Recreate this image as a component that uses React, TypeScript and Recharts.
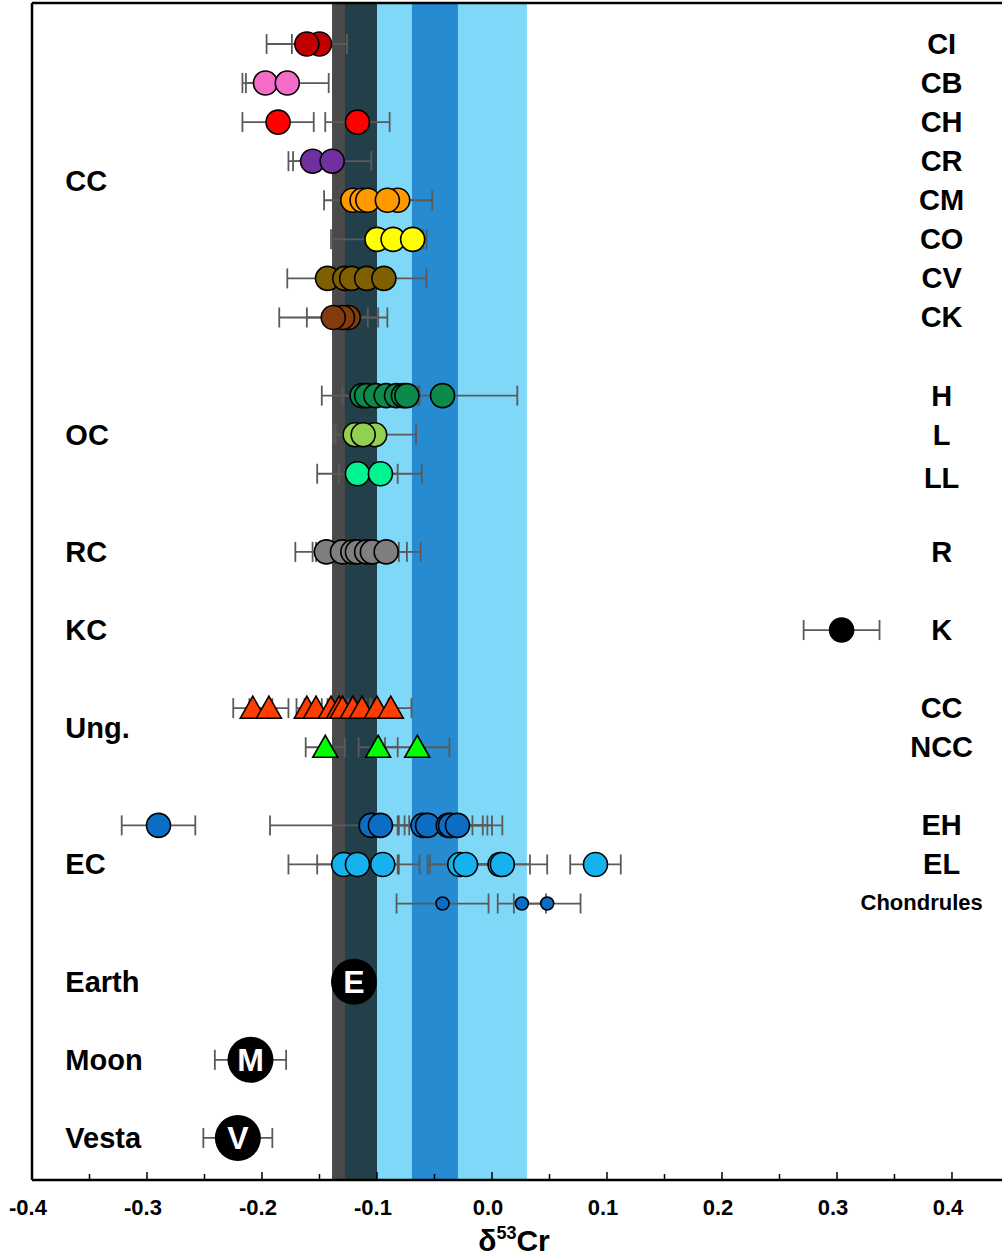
import React from "react";
import {
  ScatterChart,
  Scatter,
  XAxis,
  YAxis,
  ErrorBar,
  ReferenceArea,
  ReferenceLine,
} from "recharts";

// delta-53Cr values and 2SD errors per group (row 0 = top)
const ciX = [-0.15, -0.161];
const ciErr = [0.024, 0.035];
const cbX = [-0.197, -0.178];
const cbErr = [0.02, 0.036];
const chX = [-0.186, -0.117];
const chErr = [0.031, 0.028];
const crX = [-0.156, -0.139];
const crErr = [0.021, 0.034];
const cmX = [-0.121, -0.113, -0.108, -0.082, -0.091];
const cmErr = [0.025, 0.012, 0.012, 0.03, 0.015];
const coX = [-0.1, -0.086, -0.069];
const coErr = [0.04, 0.012, 0.012];
const cvX = [-0.143, -0.128, -0.122, -0.109, -0.094];
const cvErr = [0.035, 0.015, 0.012, 0.012, 0.037];
const ckX = [-0.125, -0.13, -0.138];
const ckErr = [0.017, 0.031, 0.047];
const hX = [-0.113, -0.109, -0.101, -0.092, -0.083, -0.077, -0.074, -0.043];
const hErr = [0.035, 0.021, 0.012, 0.025, 0.02, 0.012, 0.01, 0.065];
const lX = [-0.102, -0.119, -0.112];
const lErr = [0.036, 0.017, 0.01];
const llX = [-0.117, -0.097];
const llErr = [0.035, 0.036];
const rX = [-0.144, -0.13, -0.121, -0.117, -0.109, -0.104, -0.092];
const rErr = [0.027, 0.026, 0.012, 0.036, 0.035, 0.012, 0.03];
const kX = [0.304];
const kErr = [0.033];
const ungCcX = [-0.208, -0.194, -0.161, -0.153, -0.14, -0.133, -0.13, -0.121, -0.113, -0.1, -0.088];
const ungCcErr = [0.017, 0.017, 0.009, 0.01, 0.008, 0.008, 0.008, 0.008, 0.008, 0.01, 0.018];
const nccX = [-0.145, -0.099, -0.065];
const nccErr = [0.017, 0.017, 0.028];
const ehX = [-0.29, -0.105, -0.097, -0.06, -0.056, -0.038, -0.036, -0.03];
const ehErr = [0.032, 0.088, 0.015, 0.016, 0.048, 0.034, 0.045, 0.03];
const elX = [-0.129, -0.117, -0.095, -0.028, -0.023, 0.007, 0.009, 0.09];
const elErr = [0.048, 0.035, 0.032, 0.028, 0.031, 0.026, 0.039, 0.022];
const chondX = [-0.043, 0.026, 0.048];
const chondErr = [0.04, 0.021, 0.029];
const earthX = [-0.12];
const moonX = [-0.21];
const moonErr = [0.031];
const vestaX = [-0.221];
const vestaErr = [0.03];

const leftLabels = [
  { t: "CC", y: 3.5 },
  { t: "OC", y: 10 },
  { t: "RC", y: 13 },
  { t: "KC", y: 15 },
  { t: "Ung.", y: 17.5 },
  { t: "EC", y: 21 },
  { t: "Earth", y: 24 },
  { t: "Moon", y: 26 },
  { t: "Vesta", y: 28 },
];
const rightLabels = [
  { t: "CI", y: 0 },
  { t: "CB", y: 1 },
  { t: "CH", y: 2 },
  { t: "CR", y: 3 },
  { t: "CM", y: 4 },
  { t: "CO", y: 5 },
  { t: "CV", y: 6 },
  { t: "CK", y: 7 },
  { t: "H", y: 9 },
  { t: "L", y: 10 },
  { t: "LL", y: 11.1 },
  { t: "R", y: 13 },
  { t: "K", y: 15 },
  { t: "CC", y: 17 },
  { t: "NCC", y: 18 },
  { t: "EH", y: 20 },
  { t: "EL", y: 21 },
  { t: "Chondrules", y: 21.95 },
];

const xTicks = [
  -0.4, -0.35, -0.3, -0.25, -0.2, -0.15, -0.1, -0.05, 0, 0.05, 0.1, 0.15, 0.2, 0.25, 0.3, 0.35, 0.4,
];

const FONT = "'Liberation Sans', Arial, Helvetica, sans-serif";

const toPts = (xs: number[], y: number, errs?: number[], extra: any = {}) =>
  xs.map((x, i) => ({ x, y, err: errs ? errs[i] : 0, ...extra }));

const dot = (fill: string, r = 12) => (p: any) => (
  <circle cx={p.cx} cy={p.cy} r={r} fill={fill} stroke="#000" strokeWidth={1.6} />
);

const tri = (fill: string) => (p: any) => (
  <path
    d={`M${p.cx},${p.cy - 12} L${p.cx + 12.5},${p.cy + 10} L${p.cx - 12.5},${p.cy + 10} Z`}
    fill={fill}
    stroke="#000"
    strokeWidth={1.6}
    strokeLinejoin="miter"
  />
);

const planet = (p: any) => (
  <g>
    <circle cx={p.cx} cy={p.cy} r={23} fill="#000" />
    <text
      x={p.cx}
      y={p.cy + 11}
      textAnchor="middle"
      fill="#fff"
      fontFamily={FONT}
      fontWeight="bold"
      fontSize={32}
    >
      {p.payload.letter}
    </text>
  </g>
);

const rows = [
  { key: "CI", data: toPts(ciX, 0, ciErr), shape: dot("#c00000") },
  { key: "CB", data: toPts(cbX, 1, cbErr), shape: dot("#f56cc8") },
  { key: "CH", data: toPts(chX, 2, chErr), shape: dot("#ff0000") },
  { key: "CR", data: toPts(crX, 3, crErr), shape: dot("#7030a0") },
  { key: "CM", data: toPts(cmX, 4, cmErr), shape: dot("#ff9900") },
  { key: "CO", data: toPts(coX, 5, coErr), shape: dot("#ffff00") },
  { key: "CV", data: toPts(cvX, 6, cvErr), shape: dot("#7f6000") },
  { key: "CK", data: toPts(ckX, 7, ckErr), shape: dot("#843c0c") },
  { key: "H", data: toPts(hX, 9, hErr), shape: dot("#0b8a4c") },
  { key: "L", data: toPts(lX, 10, lErr), shape: dot("#92d050") },
  { key: "LL", data: toPts(llX, 11, llErr), shape: dot("#00f590") },
  { key: "R", data: toPts(rX, 13, rErr), shape: dot("#7f7f7f") },
  { key: "K", data: toPts(kX, 15, kErr), shape: dot("#000000") },
  { key: "UngCC", data: toPts(ungCcX, 17, ungCcErr), shape: tri("#ff3d00") },
  { key: "NCC", data: toPts(nccX, 18, nccErr), shape: tri("#00ff00") },
  { key: "EH", data: toPts(ehX, 20, ehErr), shape: dot("#0b6ec4") },
  { key: "EL", data: toPts(elX, 21, elErr), shape: dot("#16b2ee") },
  { key: "Chond", data: toPts(chondX, 22, chondErr), shape: dot("#0b6ec4", 6.5) },
  { key: "Earth", data: toPts(earthX, 24, undefined, { letter: "E" }), shape: planet },
  { key: "Moon", data: toPts(moonX, 26, moonErr, { letter: "M" }), shape: planet },
  { key: "Vesta", data: toPts(vestaX, 28, vestaErr, { letter: "V" }), shape: planet },
];

// shaded ranges
const bands = [
  { x1: -0.1, x2: 0.0304, fill: "#80d8f8" },
  { x1: -0.0696, x2: -0.0296, fill: "#268bd0" },
  { x1: -0.1391, x2: -0.1, fill: "#4a4a4a" },
  { x1: -0.1278, x2: -0.1, fill: "#233f49" },
];

const XTick = (props: any) => {
  const { x, y, payload } = props;
  const v = payload.value as number;
  const major = Math.abs(v * 10 - Math.round(v * 10)) < 1e-6;
  return (
    <g>
      <line x1={x} x2={x} y1={y} y2={y - (major ? 8 : 6)} stroke="#000" strokeWidth={1.5} />
      {major && (
        <text
          x={x - 4}
          y={y + 35}
          textAnchor="middle"
          fontFamily={FONT}
          fontWeight="bold"
          fontSize={22}
          fill="#000"
        >
          {v.toFixed(1)}
        </text>
      )}
    </g>
  );
};

const AxisTitle = (props: any) => {
  const vb = props.viewBox || { x: 0, y: 0, width: 0 };
  return (
    <text
      x={vb.x + vb.width / 2 - 3}
      y={vb.y + 71}
      textAnchor="middle"
      fontFamily={FONT}
      fontWeight="bold"
      fontSize={30}
      fill="#000"
    >
      δ
      <tspan fontSize={18} dy={-12}>
        53
      </tspan>
      <tspan dy={12}>Cr</tspan>
    </text>
  );
};

const leftText = (p: any) => (
  <text
    x={p.cx}
    y={p.cy + 10}
    textAnchor="start"
    fontFamily={FONT}
    fontWeight="bold"
    fontSize={29}
    fill="#000"
  >
    {p.payload.t}
  </text>
);

const rightText = (p: any) => {
  const small = p.payload.t === "Chondrules";
  return (
    <text
      x={small ? p.cx - 20 : p.cx}
      y={p.cy + (small ? 8 : 10)}
      textAnchor="middle"
      fontFamily={FONT}
      fontWeight="bold"
      fontSize={small ? 22 : 29}
      fill="#000"
    >
      {p.payload.t}
    </text>
  );
};

const App: React.FC = () => {
  return (
    <div style={{ position: "absolute", left: 0, top: 0, background: "#fff" }}>
      <ScatterChart width={1002} height={1260} margin={{ top: 3, right: 0, bottom: 0, left: 32 }}>
        {bands.map((b, i) => (
          <ReferenceArea
            key={i}
            x1={b.x1}
            x2={b.x2}
            fill={b.fill}
            fillOpacity={1}
            stroke="none"
            ifOverflow="visible"
          />
        ))}
        <XAxis
          type="number"
          dataKey="x"
          domain={[-0.4, 0.4435]}
          allowDataOverflow
          ticks={xTicks}
          interval={0}
          tick={<XTick />}
          tickLine={false}
          tickSize={0}
          tickMargin={0}
          axisLine={{ stroke: "#000", strokeWidth: 2.5 }}
          height={80}
          label={<AxisTitle />}
        />
        <YAxis type="number" dataKey="y" domain={[-1.049, 29.076]} allowDataOverflow reversed hide width={0} />
        <ReferenceLine x={-0.4} stroke="#000" strokeWidth={2.5} />
        <ReferenceLine y={-1.049} stroke="#000" strokeWidth={2.5} />
        {rows.map((r) => (
          <Scatter key={r.key} data={r.data} shape={r.shape} isAnimationActive={false}>
            <ErrorBar dataKey="err" direction="x" width={10} stroke="#5a5a5a" strokeWidth={1.8} />
          </Scatter>
        ))}
        <Scatter
          data={leftLabels.map((l) => ({ x: -0.371, y: l.y, t: l.t }))}
          shape={leftText}
          isAnimationActive={false}
        />
        <Scatter
          data={rightLabels.map((l) => ({ x: 0.391, y: l.y, t: l.t }))}
          shape={rightText}
          isAnimationActive={false}
        />
      </ScatterChart>
    </div>
  );
};

export default App;
